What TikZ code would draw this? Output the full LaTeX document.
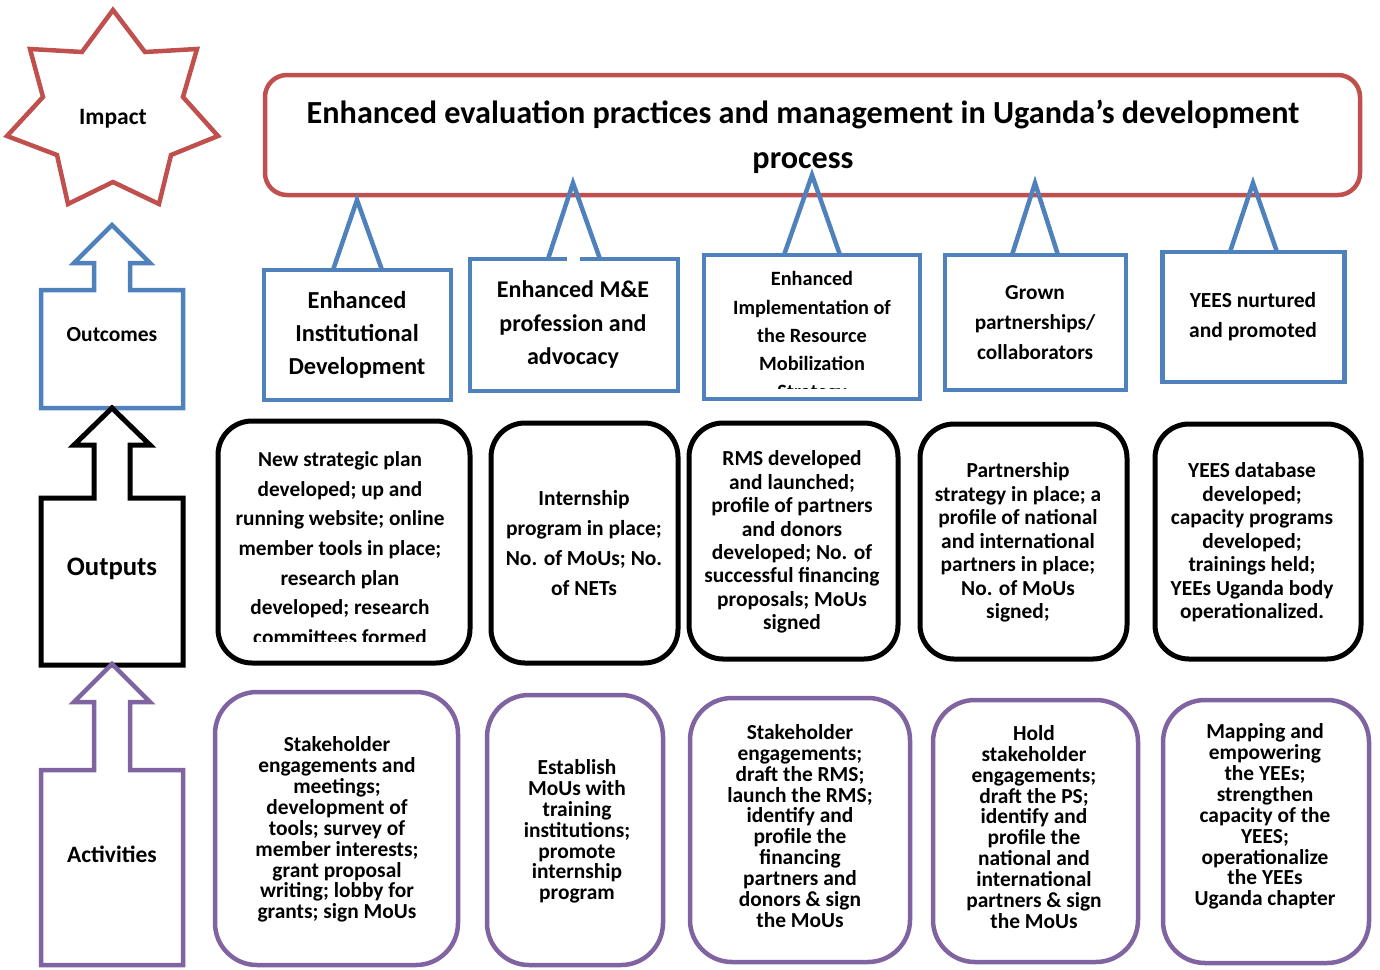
\documentclass[tikz,border=0pt]{standalone}
\usepackage{fontspec}
\setmainfont{Carlito}
\definecolor{cred}{HTML}{C0504D}
\definecolor{cblue}{HTML}{4F81BD}
\definecolor{cpurp}{HTML}{8064A2}
\begin{document}
\begin{tikzpicture}[x=1pt,y=-1pt,line join=miter,
  txt/.style={inner sep=0pt,align=center,font=\bfseries\fontsize{21.4}{23.5}\selectfont},
  starline/.style={draw=cred,line width=4.5pt},
  obox/.style={draw=cblue,line width=4.5pt},
  pbox/.style={draw=black,line width=5pt,rounded corners=34pt},
  abox/.style={draw=cpurp,line width=4.5pt,rounded corners=42pt},
  pointer/.style={draw=cblue,line width=4.5pt}]
\useasboundingbox (0,0) rectangle (1380,969);

% ---- star (impact)
\draw[starline] (113,10) -- (145,52) -- (197,49) -- (183,97) -- (218,136) -- (171,155) -- (159,204) -- (113,182) -- (68,204) -- (57,155) -- (7,136) -- (43,97) -- (30,49) -- (82,52) -- cycle;
\node[txt,font=\bfseries\fontsize{23.5}{26}\selectfont] (impact) at (113,118.5) {Impact};

% ---- left arrows
\draw[draw=cblue,line width=4.5pt] (112,225) -- (150,263) -- (130,263) -- (130,290) -- (183,290) -- (183,408) -- (41,408) -- (41,290) -- (94,290) -- (94,263) -- (74,263) -- cycle;
\node[txt,font=\bfseries\fontsize{21.5}{24}\selectfont] (outcomes) at (112,335) {Outcomes};
\draw[draw=black,line width=5pt] (112,408) -- (150,445) -- (130,445) -- (130,498) -- (183,498) -- (183,665) -- (41,665) -- (41,498) -- (94,498) -- (94,445) -- (74,445) -- cycle;
\node[txt,font=\bfseries\fontsize{26.7}{30}\selectfont] (outputs) at (112,568.5) {Outputs};
\draw[draw=cpurp,line width=4.5pt] (112,664) -- (150,702) -- (130,702) -- (130,770) -- (183,770) -- (183,965) -- (41,965) -- (41,770) -- (94,770) -- (94,702) -- (74,702) -- cycle;
\node[txt,font=\bfseries\fontsize{23.5}{26}\selectfont] (activities) at (112,854) {Activities};

% ---- title
\draw[draw=cred,line width=4.5pt,rounded corners=22pt] (265,75) rectangle (1360,195);
\node[txt,font=\bfseries\fontsize{32.2}{45}\selectfont] (title) at (803,137) {Enhanced evaluation practices and management in Uganda’s development\\process};

% ---- outcome boxes
\node[obox,minimum width=187pt,minimum height=130pt,inner sep=0pt] (o1) at (357.5,335) {};
\node[obox,minimum width=208pt,minimum height=132pt,inner sep=0pt] (o2) at (574,325) {};
\fill[white] (567,256) rectangle (580,262);
\node[obox,minimum width=216pt,minimum height=144pt,inner sep=0pt] (o3) at (812,327) {};
\node[obox,minimum width=181pt,minimum height=135pt,inner sep=0pt] (o4) at (1035.5,322.5) {};
\node[obox,minimum width=182pt,minimum height=130pt,inner sep=0pt] (o5) at (1253.5,317) {};

\coordinate (t1) at (357,200);
\coordinate (t2) at (573,183);
\coordinate (t3) at (812,175);
\coordinate (t4) at (1035,183);
\coordinate (t5) at (1253,183);
\draw[pointer] (333,270) -- (t1) -- (382,270);
\draw[pointer] (548,259) -- (t2) -- (600,259);
\draw[pointer] (784,255) -- (t3) -- (840,255);
\draw[pointer] (1012,255) -- (t4) -- (1058,255);
\draw[pointer] (1230,252) -- (t5) -- (1277,252);

\node[txt,font=\bfseries\fontsize{24.4}{33}\selectfont] (o1t) at (357,335) {Enhanced\\Institutional\\Development};
\node[txt,font=\bfseries\fontsize{24}{33.5}\selectfont] (o2t) at (573,324.5) {Enhanced M\&E\\profession and\\advocacy};
\begin{scope}
\clip (707,258) rectangle (918,388.5);
\node[txt,font=\bfseries\fontsize{20.3}{28.25}\selectfont] (o3t) at (812,337) {Enhanced\\Implementation of\\the Resource\\Mobilization\\Strategy};
\end{scope}
\node[txt,font=\bfseries\fontsize{21.3}{30}\selectfont] (o4t) at (1035,322.5) {Grown\\partnerships/\\collaborators};
\node[txt,font=\bfseries\fontsize{21.5}{30}\selectfont] (o5t) at (1253,316.5) {YEES nurtured\\and promoted};

% ---- output boxes
\draw[pbox] (218,421) rectangle (470,663);
\draw[pbox] (491,423) rectangle (678,663);
\draw[pbox] (689,423) rectangle (898,659);
\draw[pbox] (920,424) rectangle (1127,659);
\draw[pbox] (1155,424) rectangle (1361,659);

\begin{scope}
\clip (222,425) rectangle (466,641);
\node[txt,font=\bfseries\fontsize{21.3}{29.7}\selectfont] (p1t) at (340,548) {New strategic plan\\developed; up and\\running website; online\\member tools in place;\\research plan\\developed; research\\committees formed};
\end{scope}
\node[txt,font=\bfseries\fontsize{21.5}{30}\selectfont] (p2t) at (584,543) {Internship\\program in place;\\No. of MoUs; No.\\of NETs};
\node[txt,font=\bfseries\fontsize{21.4}{23.4}\selectfont] (p3t) at (792,542) {RMS developed\\and launched;\\profile of partners\\and donors\\developed; No. of\\successful financing\\proposals; MoUs\\signed};
\node[txt,font=\bfseries\fontsize{21.4}{23.5}\selectfont] (p4t) at (1018,542.5) {Partnership\\strategy in place; a\\profile of national\\and international\\partners in place;\\No. of MoUs\\signed;};
\node[txt,font=\bfseries\fontsize{21.4}{23.5}\selectfont] (p5t) at (1252,542.5) {YEES database\\developed;\\capacity programs\\developed;\\trainings held;\\YEEs Uganda body\\operationalized.};

% ---- activity boxes
\draw[abox] (215,692) rectangle (458,965);
\draw[abox] (487,695) rectangle (663,965);
\draw[abox] (690,698) rectangle (910,962);
\draw[abox] (933,700) rectangle (1138,962);
\draw[abox] (1163,700) rectangle (1369,963);

\node[txt,font=\bfseries\fontsize{21.4}{20.9}\selectfont] (a1t) at (337,829.5) {Stakeholder\\engagements and\\meetings;\\development of\\tools; survey of\\member interests;\\grant proposal\\writing; lobby for\\grants; sign MoUs};
\node[txt,font=\bfseries\fontsize{21.4}{20.8}\selectfont] (a2t) at (577,831.5) {Establish\\MoUs with\\training\\institutions;\\promote\\internship\\program};
\node[txt,font=\bfseries\fontsize{21.4}{20.9}\selectfont] (a3t) at (800,826) {Stakeholder\\engagements;\\draft the RMS;\\launch the RMS;\\identify and\\profile the\\financing\\partners and\\donors \& sign\\the MoUs};
\node[txt,font=\bfseries\fontsize{21.4}{20.9}\selectfont] (a4t) at (1034,827) {Hold\\stakeholder\\engagements;\\draft the PS;\\identify and\\profile the\\national and\\international\\partners \& sign\\the MoUs};
\node[txt,font=\bfseries\fontsize{21.4}{20.9}\selectfont] (a5t) at (1265,816.5) {Mapping and\\empowering\\the YEEs;\\strengthen\\capacity of the\\YEES;\\operationalize\\the YEEs\\Uganda chapter};
\end{tikzpicture}
\end{document}
